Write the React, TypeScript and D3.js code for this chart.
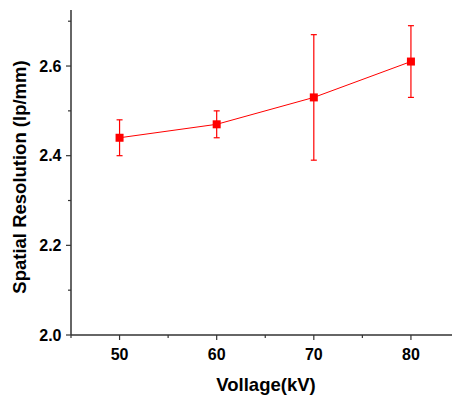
import React from "react";
import * as d3 from "d3";

const voltages = [50, 60, 70, 80];
const resolution = [2.44, 2.47, 2.53, 2.61];
const errLow = [2.40, 2.44, 2.39, 2.53];
const errHigh = [2.48, 2.50, 2.67, 2.69];
const xMajor = [50, 60, 70, 80];
const xMinor = [45, 55, 65, 75, 85];
const yMajor = [2.0, 2.2, 2.4, 2.6];
const yMinor = [2.1, 2.3, 2.5, 2.7];

export default function App() {
  const W = 452, H = 396;
  const x = d3.scaleLinear().domain([45, 85]).range([71, 459.5]);
  const y = d3.scaleLinear().domain([2.0, 2.725]).range([335, 10]);
  const line = d3.line<number>().x((_, i) => x(voltages[i])).y((d) => y(d));
  const font = "'Liberation Sans', Arial, sans-serif";
  const axisColor = "#333";
  const red = "#ff0000";
  return (
    <svg width={W} height={H} style={{ position: "absolute", left: 0, top: 0 }}>
      <rect width={W} height={H} fill="#fff" />
      {/* axes */}
      <line x1={x(45)} x2={W} y1={y(2.0)} y2={y(2.0)} stroke={axisColor} strokeWidth={1.5} />
      <line x1={x(45)} x2={x(45)} y1={y(2.0)} y2={y(2.725)} stroke={axisColor} strokeWidth={1.5} />
      {xMajor.map((v) => (
        <g key={"xm" + v}>
          <line x1={x(v)} x2={x(v)} y1={y(2.0)} y2={y(2.0) + 5} stroke={axisColor} strokeWidth={1.2} />
          <text x={x(v)} y={y(2.0) + 24.5} textAnchor="middle" fontFamily={font} fontWeight="bold" fontSize={16} fill="#000">{v}</text>
        </g>
      ))}
      {xMinor.map((v) => (
        <line key={"xn" + v} x1={x(v)} x2={x(v)} y1={y(2.0)} y2={y(2.0) + 3} stroke={axisColor} strokeWidth={1.2} />
      ))}
      {yMajor.map((v) => (
        <g key={"ym" + v}>
          <line x1={x(45) - 5} x2={x(45)} y1={y(v)} y2={y(v)} stroke={axisColor} strokeWidth={1.2} />
          <text x={x(45) - 9.5} y={y(v) + 5.5} textAnchor="end" fontFamily={font} fontWeight="bold" fontSize={16} fill="#000">{v.toFixed(1)}</text>
        </g>
      ))}
      {yMinor.map((v) => (
        <line key={"yn" + v} x1={x(45) - 3} x2={x(45)} y1={y(v)} y2={y(v)} stroke={axisColor} strokeWidth={1.2} />
      ))}
      {/* error bars */}
      {voltages.map((v, i) => (
        <g key={"e" + v} stroke={red} strokeWidth={1.2}>
          <line x1={x(v)} x2={x(v)} y1={y(errLow[i])} y2={y(errHigh[i])} />
          <line x1={x(v) - 3} x2={x(v) + 3} y1={y(errLow[i])} y2={y(errLow[i])} />
          <line x1={x(v) - 3} x2={x(v) + 3} y1={y(errHigh[i])} y2={y(errHigh[i])} />
        </g>
      ))}
      <path d={line(resolution) || ""} fill="none" stroke={red} strokeWidth={1} />
      {voltages.map((v, i) => (
        <rect key={"p" + v} x={x(v) - 4} y={y(resolution[i]) - 4} width={8} height={8} fill={red} />
      ))}
      {/* labels */}
      <text x={266} y={390.5} textAnchor="middle" fontFamily={font} fontWeight="bold" fontSize={18.5} fill="#000">Vollage(kV)</text>
      <text transform={`translate(25.5, 177) rotate(-90)`} textAnchor="middle" fontFamily={font} fontWeight="bold" fontSize={18.5} fill="#000">Spatial Resolution (lp/mm)</text>
    </svg>
  );
}
